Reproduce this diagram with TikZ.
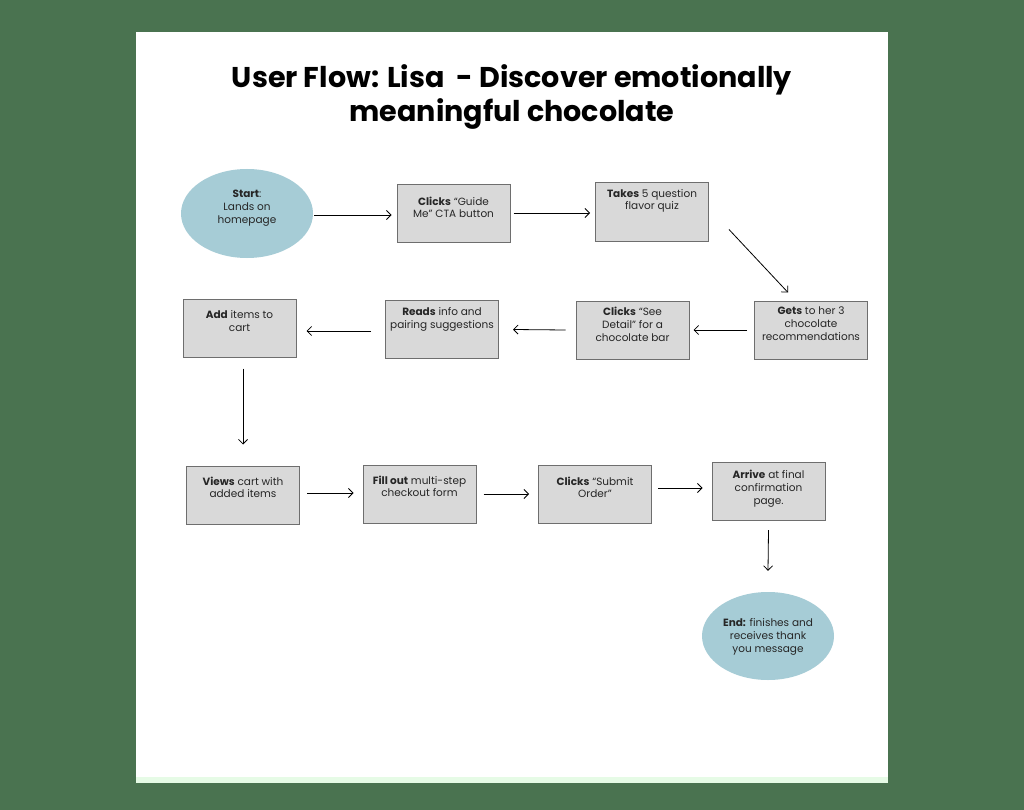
\documentclass[tikz,border=0pt]{standalone}
\usepackage{fontspec}
\setmainfont{Poppins}
\usetikzlibrary{arrows.meta,shapes.geometric}
\definecolor{bggreen}{HTML}{4A7350}
\definecolor{stripgreen}{HTML}{E6FBE6}
\definecolor{boxgray}{HTML}{D9D9D9}
\definecolor{boxline}{HTML}{6E6E6E}
\definecolor{ovalblue}{HTML}{A6CCD6}
\tikzset{
  stepbox/.style={draw=boxline, line width=1pt, fill=boxgray, minimum width=113pt, minimum height=58pt, inner sep=0pt},
  oval/.style={ellipse, fill=ovalblue, minimum width=132pt, minimum height=89pt, inner sep=0pt},
  boxtext/.style={anchor=north, inner sep=0pt, align=center, font=\fontsize{10.5}{12.8}\selectfont, text=black!85},
  ovaltext/.style={inner sep=0pt, align=center, font=\fontsize{10.5}{12.8}\selectfont, text=black!85},
  flow/.style={-{Straight Barb[length=4.5pt,width=9pt]}, line width=0.8pt, black},
}
\begin{document}
\begin{tikzpicture}[x=1pt,y=-1pt]
\fill[bggreen] (0,0) rectangle (1024,810);
\useasboundingbox (0,0) rectangle (1024,810);
\fill[white] (136,32) rectangle (888,783);
\fill[stripgreen] (136,777) rectangle (888,783);
\node[inner sep=0pt, align=center, font=\fontsize{28.6}{34}\selectfont\bfseries] (title) at (512,97) {User Flow: Lisa\ \ - Discover emotionally\\meaningful chocolate};
% row 1
\node[oval] (start) at (247,213.5) {};
\node[ovaltext] (startT) at (247,208) {\textbf{Start}:\\Lands on\\homepage};
\node[stepbox] (guide) at (453.5,213.5) {};
\node[boxtext] (guideT) at ([yshift=-12.5pt]guide.north) {\textbf{Clicks} “Guide\\Me” CTA button};
\node[stepbox] (quiz) at (652,212) {};
\node[boxtext] (quizT) at ([yshift=-6.5pt]quiz.north) {\textbf{Takes} 5 question\\flavor quiz};
% row 2
\node[stepbox] (gets) at (811,330) {};
\node[boxtext] (getsT) at ([yshift=-6.5pt]gets.north) {\textbf{Gets} to her 3\\chocolate\\recommendations};
\node[stepbox] (detail) at (632.5,330) {};
\node[boxtext] (detailT) at ([yshift=-6.5pt]detail.north) {\textbf{Clicks} “See\\Detail” for a\\chocolate bar};
\node[stepbox] (reads) at (442,329.5) {};
\node[boxtext] (readsT) at ([yshift=-7.5pt]reads.north) {\textbf{Reads} info and\\pairing suggestions};
\node[stepbox] (add) at (239.5,328) {};
\node[boxtext] (addT) at ([yshift=-12pt]add.north) {\textbf{Add} items to\\cart};
% row 3
\node[stepbox] (views) at (243,495) {};
\node[boxtext] (viewsT) at ([yshift=-11pt]views.north) {\textbf{Views} cart with\\added items};
\node[stepbox] (fill) at (419.5,494) {};
\node[boxtext] (fillT) at ([yshift=-11pt]fill.north) {\textbf{Fill out} multi-step\\checkout form};
\node[stepbox] (submit) at (595,494.5) {};
\node[boxtext] (submitT) at ([yshift=-11.5pt]submit.north) {\textbf{Clicks} “Submit\\Order”};
\node[stepbox] (arrive) at (768.5,491.5) {};
\node[boxtext] (arriveT) at ([yshift=-8pt]arrive.north) {\textbf{Arrive} at final\\confirmation\\page.};
\node[oval, minimum height=88pt] (end) at (768,636) {};
\node[ovaltext] (endT) at (768,637) {\textbf{End:} finishes and\\receives thank\\you message};
% connectors
\draw[flow] ([xshift=1pt]start.east |- 0,215) -- ([xshift=-5pt]guide.west |- 0,215);
\draw[flow] ([xshift=3pt]guide.east |- 0,213) -- ([xshift=-5pt]quiz.west |- 0,213);
\draw[flow] ([xshift=20pt,yshift=12pt]quiz.south east) -- ([xshift=-23pt,yshift=8pt]gets.north);
\draw[flow] ([xshift=-7pt]gets.west) -- ([xshift=4pt]detail.east);
\draw[flow] ([xshift=-10pt]detail.west) -- ([xshift=14pt]reads.east);
\draw[flow] ([xshift=-14pt]reads.west |- 0,331) -- ([xshift=10pt]add.east |- 0,331);
\draw[flow] ([yshift=-11pt]add.south -| 243,0) -- ([yshift=21pt]views.north);
\draw[flow] ([xshift=7pt]views.east |- 0,493) -- ([xshift=-9pt]fill.west |- 0,493);
\draw[flow] ([xshift=7pt]fill.east |- 0,494) -- ([xshift=-9pt]submit.west |- 0,494);
\draw[flow] ([xshift=6pt]submit.east |- 0,488) -- ([xshift=-9pt]arrive.west |- 0,488);
\draw[flow] ([yshift=-9pt]arrive.south) -- ([yshift=21pt]end.north);
\end{tikzpicture}
\end{document}
